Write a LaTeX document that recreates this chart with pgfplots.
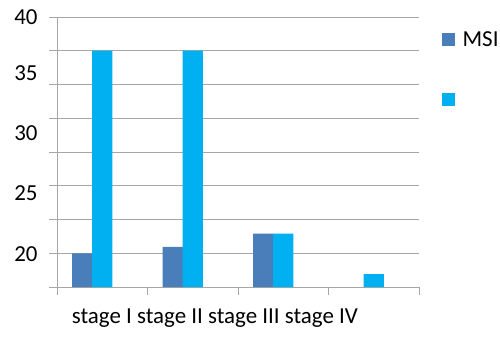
\documentclass[border=0pt]{standalone}
\usepackage{fontspec}
\setmainfont{Carlito}
\usepackage{pgfplots}
\pgfplotsset{compat=1.18}
\definecolor{msi}{HTML}{4A7EBB}
\definecolor{cy}{HTML}{00B0F0}
\definecolor{gridc}{HTML}{A6A6A6}
\begin{document}
\begin{tikzpicture}[x=1bp,y=1bp]
\useasboundingbox (-57,-56) rectangle (443,287);
\begin{axis}[
  at={(0,0)}, anchor=south west,
  scale only axis, width=362bp, height=270bp,
  xmin=0.5, xmax=4.5, ymin=17.143, ymax=40,
  axis x line*=bottom, axis y line*=left,
  axis line style={draw=gridc, line width=0.9bp},
  xtick={0.5,1.5,2.5,3.5,4.5}, xticklabels={},
  ytick={17.143,20,22.857,25.714,28.571,31.429,34.286,37.143,40}, yticklabels={},
  ymajorgrids, grid style={draw=gridc, line width=0.9bp},
  tick align=outside, major tick length=8bp,
  tick style={draw=gridc, line width=0.9bp},
  extra y ticks={19.9,25.1,30.2,35.25,40},
  extra y tick labels={20,25,30,35,40},
  extra y tick style={grid=none, major tick length=0pt, yticklabel style={xshift=-16bp}},
  /pgf/number format/assume math mode=true,
  every tick label/.append style={font=\fontsize{23}{27}\selectfont, text=black},
  xlabel={stage I stage II stage III stage IV},
  xlabel style={at={(axis description cs:0.436,0)}, anchor=base, yshift=-36bp, font=\fontsize{23}{27}\selectfont},
  ybar, bar width=20.3bp,
  legend style={draw=none, fill=none, at={(axis description cs:1.062,0.955)}, anchor=north west,
    font=\fontsize{23}{27}\selectfont, row sep=43bp, inner sep=0pt,
    /tikz/every odd column/.append style={column sep=6bp}},
  legend image code/.code={\fill[#1] (0bp,-6.5bp) rectangle (13bp,6.5bp);},
  legend cell align=left,
]
\addplot[draw=none, fill=msi, bar shift=-20bp] coordinates {(1,20.0) (2,20.53) (3,21.66)};
\addlegendentry{MSI}
\addplot[draw=none, fill=cy, bar shift=0bp] coordinates {(1,37.143) (2,37.143) (3,21.66) (4,18.24)};
\addlegendentry{}
\end{axis}
\end{tikzpicture}
\end{document}
